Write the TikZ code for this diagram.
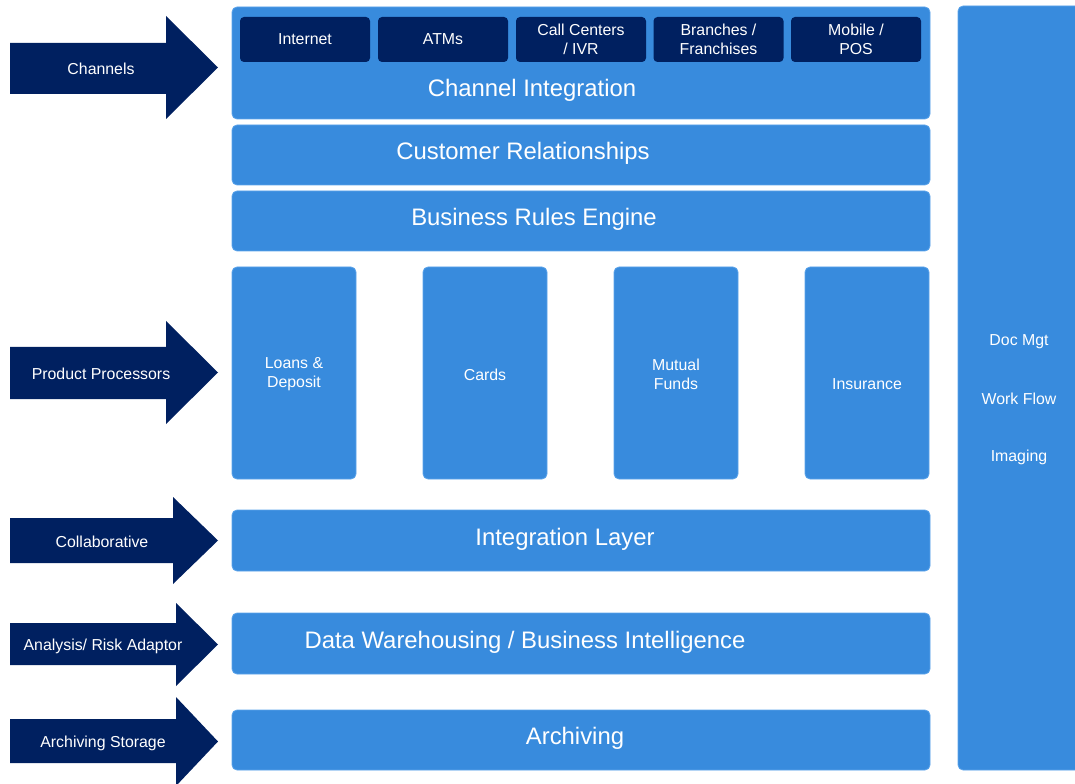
\documentclass[tikz,border=0pt]{standalone}
\usepackage{fontspec}
\setmainfont{Liberation Sans}
\definecolor{layerblue}{RGB}{56,139,221}
\definecolor{layeredge}{RGB}{92,164,234}
\definecolor{navy}{RGB}{0,32,96}
\begin{document}
\begin{tikzpicture}[x=0.75pt,y=-0.75pt,
  layer/.style={fill=layerblue,draw=layeredge,line width=0.6pt,rounded corners=3.75pt},
  chan/.style={fill=navy,rounded corners=3pt,minimum width=97.5pt,minimum height=33.75pt,inner sep=0pt,
    text=white,font=\fontsize{11.9}{14.25}\selectfont,align=center},
  small/.style={text=white,font=\fontsize{11.9}{14.25}\selectfont,align=center,inner sep=0pt},
  big/.style={text=white,font=\fontsize{17.9}{21}\selectfont,inner sep=0pt},
  bigarrow/.style={fill=navy}]
\useasboundingbox (0,0) rectangle (1075,784);
\clip (0,0) rectangle (1075,784);

% stacked layers
\path[layer] (232,7) rectangle (930,119);
\path[layer] (232,125) rectangle (930,185);
\path[layer] (232,191) rectangle (930,251);
\path[layer] (232,267) rectangle (356,479);
\path[layer] (423,267) rectangle (547,479);
\path[layer] (614,267) rectangle (738,479);
\path[layer] (805,267) rectangle (929,479);
\path[layer] (232,510) rectangle (930,571);
\path[layer] (232,613) rectangle (930,674);
\path[layer] (232,710) rectangle (930,770);
% side column
\path[layer] (958,6) rectangle (1090,770);

% channels
\node[chan] (internet) at (305,39.5) {Internet};
\node[chan] (atms) at (443,39.5) {ATMs};
\node[chan] (callc) at (581,39.5) {Call Centers\\/ IVR};
\node[chan] (branch) at (718.5,39.5) {Branches /\\Franchises};
\node[chan] (mobile) at (856,39.5) {Mobile /\\POS};

% layer titles
\node[big] (ci) at (532,90) {Channel Integration};
\node[big] (cr) at (523,153) {Customer Relationships};
\node[big] (bre) at (534,219) {Business Rules Engine};
\node[big] (il) at (565,539.5) {Integration Layer};
\node[big] (dw) at (525,642) {Data Warehousing / Business Intelligence};
\node[big] (arch) at (575,738.5) {Archiving};

% product processors
\node[small] (loans) at (294,374.5) {Loans \&\\Deposit};
\node[small] (cards) at (485,375) {Cards};
\node[small] (funds) at (676,374) {Mutual\\Funds};
\node[small] (ins) at (867,384) {Insurance};

% side column texts
\node[small] (doc) at (1019,341.5) {Doc Mgt};
\node[small] (wf) at (1019,399) {Work Flow};
\node[small] (img) at (1019,457) {Imaging};

% block arrows on the left
\fill[bigarrow] (10,43) -- (166,43) -- (166,16) -- (218,67.5) -- (166,119) -- (166,94) -- (10,94) -- cycle;
\fill[bigarrow] (10,347) -- (166,347) -- (166,321) -- (218,372.5) -- (166,424) -- (166,399) -- (10,399) -- cycle;
\fill[bigarrow] (10,518) -- (173,518) -- (173,497) -- (218,540.5) -- (173,584) -- (173,563) -- (10,563) -- cycle;
\fill[bigarrow] (10,623) -- (176,623) -- (176,603) -- (218,644.5) -- (176,686) -- (176,665) -- (10,665) -- cycle;
\fill[bigarrow] (10,719) -- (176,719) -- (176,697) -- (218,741.5) -- (176,786) -- (176,763) -- (10,763) -- cycle;

\node[small] (a1) at (101,69) {Channels};
\node[small] (a2) at (101,374) {Product Processors};
\node[small] (a3) at (102,542) {Collaborative};
\node[small] (a4) at (103,646) {Analysis/ Risk Adaptor};
\node[small] (a5) at (103,743) {Archiving Storage};
\end{tikzpicture}
\end{document}
